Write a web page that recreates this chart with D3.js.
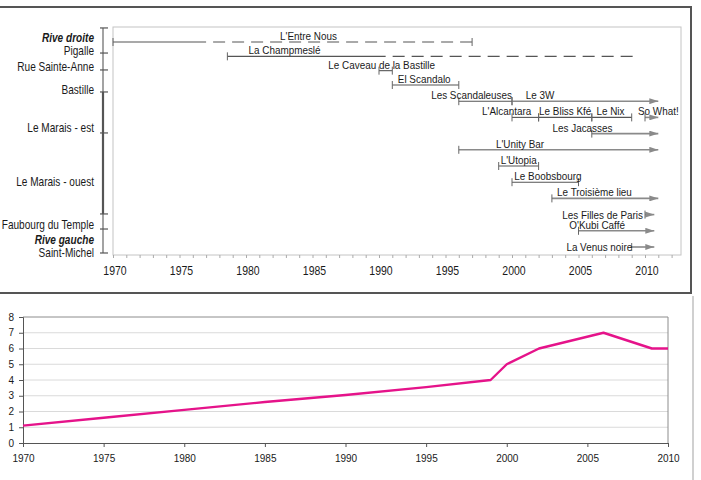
<!DOCTYPE html>
<html><head><meta charset="utf-8">
<script src="https://cdn.jsdelivr.net/npm/d3@7"></script>
<style>
body{margin:0;background:#fff}
svg{display:block}
text{font-family:"Liberation Sans",Arial,sans-serif;fill:#1a1a1a}
</style>
</head><body>
<svg id="c" width="701" height="480"></svg>
<script>
// ---------- DATA: timeline of venues ----------
const venues = ["L'Entre Nous","La Champmeslé","Le Caveau de la Bastille","El Scandalo","Les Scandaleuses","Le 3W","L'Alcantara","Le Bliss Kfé","Le Nix","So What!","Les Jacasses","L'Unity Bar","L'Utopia","Le Boobsbourg","Le Troisième lieu","Les Filles de Paris","O'Kubi Caffé","La Venus noire"];
const venueRows   = [0,1,2,3,4,4,5,5,5,5,6,7,8,9,10,11,12,13];
const openYears   = [1970,1978.6,1990,1991,1996,2000,2000,2002,2006,2010,2006,1996,1999,2000,2003,2010,2005,2009];
const closeYears  = [1997,2009.4,1991,1996,2000,2011,2002,2006,2009,2011,2011,2011,2002,2005,2011,2010.7,2010.7,2010.7];
const certainUntil= [1977,1990.5,null,null,null,null,null,null,null,null,null,null,null,null,null,null,null,null];
const stillOpen   = [false,false,false,false,false,true,false,false,false,true,true,true,false,false,true,true,true,true];

// districts (left axis), in row units
const districtLabels = ["Rive droite","Pigalle","Rue Sainte-Anne","Bastille","Le Marais - est","Le Marais - ouest","Faubourg du Temple","Rive gauche","Saint-Michel"];
const districtLabelRows = [-0.3,0.63,1.74,3.31,5.62,8.96,11.6,12.54,13.37];
const districtTickRows = [-0.98,0.77,1.95,3.43,5.96,10.96,11.89,13.37];
const topYearTicks = [1970,1975,1980,1985,1990,1995,2000,2005,2010];

// ---------- DATA: number of venues per year ----------
const countYears  = [1970,1975,1980,1985,1990,1995,1999,2000,2002,2006,2009,2010];
const countValues = [1.1,1.6,2.1,2.6,3.05,3.55,4,5,6,7,6,6];
const bottomYTicks = [0,1,2,3,4,5,6,7,8];
const bottomXTicks = [1970,1975,1980,1985,1990,1995,2000,2005,2010];

// ---------- helpers ----------
const svg = d3.select("#c");
function label(g, x, y, s, o = {}) {
  const gg = g.append("g").attr("transform", `translate(${x},${y}) scale(${o.sx || 1},1)`);
  const t = gg.append("text").attr("text-anchor", o.anchor || "start")
    .style("font-size", (o.size || 11) + "px").text(s);
  if (o.dy) t.attr("dy", o.dy);
  if (o.bold) t.style("font-weight", "bold");
  if (o.italic) t.style("font-style", "italic");
  return t;
}

// ---------- TOP PANEL ----------
svg.append("path").attr("d", "M0,7H691V293H0").attr("fill", "none")
  .attr("stroke", "#555").attr("stroke-width", 2);
svg.append("line").attr("x1", 693).attr("x2", 693).attr("y1", 296).attr("y2", 480)
  .attr("stroke", "#d0d0d0").attr("stroke-width", 2);

const x = d3.scaleLinear().domain([1970, 2010]).range([113, 645]);
const y = d3.scaleLinear().domain([0, 3, 13]).range([42, 85, 247]);

const topG = svg.append("g");
topG.append("rect").attr("x", 113).attr("y", 27).attr("width", 568).attr("height", 228)
  .attr("fill", "none").attr("stroke", "#c4c4c4");

// x axis (minor ticks every year)
const xa = topG.append("g").attr("transform", "translate(0,255)")
  .call(d3.axisBottom(x).tickValues(d3.range(1970, 2013)).tickSize(3).tickFormat(""));
xa.select(".domain").remove();
xa.selectAll("line").attr("stroke", "#aaa");
topYearTicks.forEach(v => label(topG, x(v) + 2, 274.5, String(v), {anchor: "middle", size: 12.5, sx: 0.84}));

// left district axis
const la = topG.append("g");
la.append("line").attr("x1", 103).attr("x2", 103)
  .attr("y1", y(districtTickRows[0])).attr("y2", y(districtTickRows[districtTickRows.length - 1]))
  .attr("stroke", "#666").attr("stroke-width", 1.2);
la.append("line").attr("x1", 103).attr("x2", 103)
  .attr("y1", y(districtTickRows[3])).attr("y2", y(districtTickRows[5]))
  .attr("stroke", "#555").attr("stroke-width", 2.2);
la.selectAll("line.tk").data(districtTickRows).join("line").attr("class", "tk")
  .attr("x1", 100).attr("x2", 108).attr("y1", d => y(d)).attr("y2", d => y(d))
  .attr("stroke", "#555").attr("stroke-width", 1.2);
districtLabels.forEach((s, i) => {
  const b = s.startsWith("Rive");
  label(la, 94, y(districtLabelRows[i]), s, {anchor: "end", size: 12, sx: 0.84, dy: "0.36em", bold: b, italic: b});
});

// arrow marker
const defs = svg.append("defs");
defs.append("marker").attr("id", "arr").attr("viewBox", "0 0 9 6")
  .attr("refX", 9).attr("refY", 3).attr("markerWidth", 9).attr("markerHeight", 6)
  .attr("markerUnits", "userSpaceOnUse").attr("orient", "auto")
  .append("path").attr("d", "M0,0L9,3L0,6Z").attr("fill", "#8a8a8a");

// label placement (year anchor, text-anchor, mode)
const labelAt = {
  "L'Entre Nous": [1984.7, "middle"],
  "La Champmeslé": [1982.9, "middle"],
  "Le Caveau de la Bastille": [1990.2, "middle"],
  "El Scandalo": [1993.4, "middle"],
  "Les Scandaleuses": [2000, "end"],
  "Le 3W": [2002.1, "middle"],
  "L'Alcantara": [1999.6, "middle"],
  "Le Bliss Kfé": [2004.0, "middle"],
  "Le Nix": [2007.4, "middle"],
  "So What!": [2011.0, "middle"],
  "Les Jacasses": [2005.3, "middle"],
  "L'Unity Bar": [2000.6, "middle"],
  "L'Utopia": [2000.5, "middle"],
  "Le Boobsbourg": [2002.7, "middle"],
  "Le Troisième lieu": [2006.2, "middle"],
  "Les Filles de Paris": [2009.85, "end", "side"],
  "O'Kubi Caffé": [2006.4, "middle"],
  "La Venus noire": [2009.05, "end", "side"]
};

const bars = topG.append("g");
venues.forEach((name, i) => {
  const yy = y(venueRows[i]);
  const open = stillOpen[i];
  const col = open ? "#8a8a8a" : "#555";
  const sw = open ? 1.6 : 1.1;
  const solidEnd = certainUntil[i] != null ? certainUntil[i] : closeYears[i];
  bars.append("line").attr("x1", x(openYears[i])).attr("x2", x(solidEnd))
    .attr("y1", yy).attr("y2", yy).attr("stroke", col).attr("stroke-width", sw)
    .attr("marker-end", open ? "url(#arr)" : null);
  if (certainUntil[i] != null) {
    bars.append("line").attr("x1", x(certainUntil[i]) + 7).attr("x2", x(closeYears[i]))
      .attr("y1", yy).attr("y2", yy).attr("stroke", col).attr("stroke-width", sw)
      .attr("stroke-dasharray", "12,7");
  }
  bars.append("line").attr("x1", x(openYears[i])).attr("x2", x(openYears[i]))
    .attr("y1", yy - 4).attr("y2", yy + 4).attr("stroke", "#666").attr("stroke-width", 1);
  if ((!open && certainUntil[i] == null) || name === "L'Entre Nous") {
    bars.append("line").attr("x1", x(closeYears[i])).attr("x2", x(closeYears[i]))
      .attr("y1", yy - 4).attr("y2", yy + 4).attr("stroke", "#666").attr("stroke-width", 1);
  }
  const p = labelAt[name];
  if (p[2] === "side") {
    label(bars, x(p[0]), yy, name, {anchor: p[1], size: 11, sx: 0.9, dy: "0.36em"});
  } else {
    label(bars, x(p[0]), yy - 2, name, {anchor: p[1], size: 11, sx: 0.9});
  }
});

// ---------- BOTTOM PANEL ----------
const xb = d3.scaleLinear().domain([1970, 2010]).range([23, 668]);
const yb = d3.scaleLinear().domain([0, 8]).range([443, 317]);
const bot = svg.append("g");
bot.selectAll("line.grid").data(bottomYTicks.slice(1, -1)).join("line").attr("class", "grid")
  .attr("x1", xb(1970)).attr("x2", xb(2010)).attr("y1", d => yb(d)).attr("y2", d => yb(d))
  .attr("stroke", "#dadada");
bot.append("path").attr("d", `M${xb(1970)},${yb(8)}H${xb(2010)}V${yb(0)}`)
  .attr("fill", "none").attr("stroke", "#8c8c8c");

const ya = bot.append("g").attr("transform", `translate(${xb(1970)},0)`)
  .call(d3.axisLeft(yb).tickValues(bottomYTicks).tickSize(4).tickPadding(5).tickFormat(d3.format("d")));
ya.select(".domain").attr("stroke", "#555");
ya.selectAll("line").attr("stroke", "#555");
ya.selectAll("text").style("font-size", "10px").attr("fill", "#1a1a1a");

const xba = bot.append("g").attr("transform", `translate(0,${yb(0)})`)
  .call(d3.axisBottom(xb).tickValues(bottomXTicks).tickSize(4).tickPadding(8).tickFormat(d3.format("d")));
xba.select(".domain").attr("stroke", "#555");
xba.selectAll("line").attr("stroke", "#555");
xba.selectAll("text").style("font-size", "10px").attr("fill", "#1a1a1a");

const series = countYears.map((yr, i) => [yr, countValues[i]]);
bot.append("path").datum(series)
  .attr("d", d3.line().x(d => xb(d[0])).y(d => yb(d[1])))
  .attr("fill", "none").attr("stroke", "#e5138a").attr("stroke-width", 2.4)
  .attr("stroke-linejoin", "round");
</script>
</body></html>
